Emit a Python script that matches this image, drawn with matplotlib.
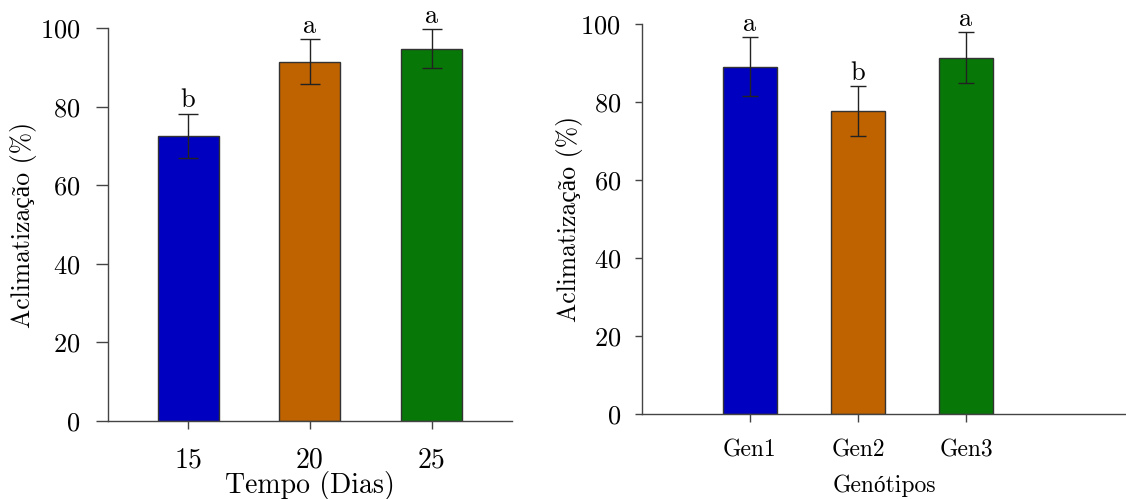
import matplotlib
matplotlib.use("Agg")
import matplotlib.pyplot as plt
import numpy as np

plt.rcParams['font.family'] = ['cmr10', 'Liberation Serif', 'DejaVu Serif']
plt.rcParams['axes.formatter.use_mathtext'] = True

# left panel: time
dias = ['15', '20', '25']
acl_dias = [72.6, 91.5, 94.8]
err_dias = [5.7, 5.7, 4.9]
let_dias = ['b', 'a', 'a']

# right panel: genotypes
gens = ['Gen1', 'Gen2', 'Gen3']
acl_gens = [89.1, 77.7, 91.4]
err_gens = [7.5, 6.3, 6.6]
let_gens = ['a', 'b', 'a']

cores = ['#0000c0', '#bf6200', '#077807']

fig = plt.figure(figsize=(11.26, 4.99), dpi=100)
ax1 = fig.add_axes([0.0959, 0.1563, 0.3588, 0.787])
ax2 = fig.add_axes([0.570, 0.1697, 0.430, 0.7823])

def painel(ax, cats, vals, errs, lets, capsize, ytickfs, ylen, xtickfs, xpad, ypad):
    x = np.arange(len(cats))
    ax.bar(x, vals, width=0.5, color=cores, edgecolor='#333333', linewidth=1.0, zorder=2)
    ax.errorbar(x, vals, yerr=errs, fmt='none', ecolor='#222222', elinewidth=1.0,
                capsize=capsize, capthick=1.0, zorder=3)
    for xi, v, e, l in zip(x, vals, errs, lets):
        ax.text(xi, v + e + 0.3, l, ha='center', va='bottom', fontsize=19)
    ax.set_ylim(0, 100)
    ax.set_yticks([0, 20, 40, 60, 80, 100])
    ax.set_xticks(x)
    ax.set_xticklabels(cats)
    for s in ['top', 'right']:
        ax.spines[s].set_visible(False)
    for s in ['left', 'bottom']:
        ax.spines[s].set_color('#444444')
        ax.spines[s].set_linewidth(1.0)
    ax.tick_params(axis='y', length=ylen, width=1.0, color='#444444', labelsize=ytickfs, pad=ypad)
    ax.tick_params(axis='x', length=6, width=1.0, color='#444444', labelsize=xtickfs, pad=xpad)

painel(ax1, dias, acl_dias, err_dias, let_dias, 7.5, 19, 9, 20, 13, 11)
ax1.set_xlim(-0.656, 2.656)
ax1.set_ylabel('Aclimatização (%)', fontsize=18.5)
ax1.yaxis.set_label_coords(-0.176, 0.5)
ax1.set_xlabel('Tempo (Dias)', fontsize=20)
ax1.xaxis.set_label_coords(0.5, -0.128)

painel(ax2, gens, acl_gens, err_gens, let_gens, 6, 19, 5, 17, 12, 10)
ax2.set_xlim(-1.0, 3.48)
ax2.set_ylabel('Aclimatização (%)', fontsize=18.5)
ax2.yaxis.set_label_coords(-0.121, 0.5)
ax2.set_xlabel('Genótipos', fontsize=17)
ax2.xaxis.set_label_coords(0.5, -0.155)

fig.savefig('out.png', dpi=100)
